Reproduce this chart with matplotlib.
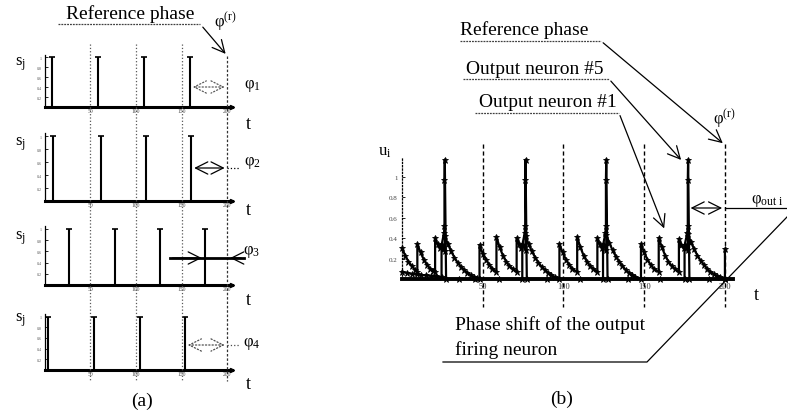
import matplotlib
matplotlib.use("Agg")
import matplotlib.pyplot as plt

plt.rcParams['font.family'] = ['Liberation Serif', 'DejaVu Serif']
plt.rcParams['mathtext.fontset'] = 'custom'
plt.rcParams['mathtext.rm'] = 'Liberation Serif'
plt.rcParams['mathtext.it'] = 'Liberation Serif:italic'

# ---------------------------------------------------------------- data
# (a) input spike times of the four inputs s_j
train1_t = [8, 59, 109, 159]
train2_t = [9.7, 61.8, 111, 160.6]
train3_t = [27.3, 76.7, 126, 175]
train4_t = [3.5, 54.4, 104, 153.6]
spike_height = 1.0
ref_phase = 200
grid_t = [50, 100, 150]
t_ticks = [50, 100, 150, 200]

# (b) membrane potentials u_i, (t, u)
n1_trace = [
    (0, 0.30), (2, 0.23), (4, 0.17), (6, 0.13), (8, 0.09), (9.5, 0.07),
    (9.5, 0.34), (11.5, 0.26), (13.5, 0.19), (15.5, 0.14), (17.5, 0.10), (19.5, 0.08), (20.5, 0.07),
    (20.5, 0.40), (22, 0.34), (23.5, 0.30), (24.5, 0.33), (25.5, 0.29), (26.5, 0.27),
    (26.5, 0.42), (28.5, 0.34), (30.5, 0.27), (32.5, 0.21), (34.5, 0.16), (36.5, 0.12), (38.5, 0.09),
    (40.5, 0.06), (42.5, 0.04), (44.5, 0.02), (46.5, 0.01), (48, 0.0),
    (48, 0.33), (50, 0.25), (52, 0.19), (54, 0.14), (56, 0.10), (58.5, 0.07),
    (58.5, 0.41), (60.5, 0.31), (62.5, 0.23), (64.5, 0.17), (66.5, 0.13), (68.5, 0.10), (71, 0.07),
    (71, 0.40), (72.5, 0.34), (74, 0.30), (75, 0.33), (76.5, 0.28),
    (76.5, 0.42), (78.5, 0.34), (80.5, 0.27), (82.5, 0.21), (84.5, 0.16), (86.5, 0.12), (88.5, 0.09),
    (90.5, 0.06), (92.5, 0.04), (94.5, 0.02), (97.5, 0.0),
    (97.5, 0.34), (99.5, 0.26), (101.5, 0.19), (103.5, 0.14), (105.5, 0.10), (108.5, 0.07),
    (108.5, 0.41), (110.5, 0.31), (112.5, 0.23), (114.5, 0.17), (116.5, 0.13), (118.5, 0.10), (121, 0.07),
    (121, 0.40), (122.5, 0.34), (124, 0.30), (125, 0.33), (126.5, 0.28),
    (126.5, 0.43), (128.5, 0.35), (130.5, 0.28), (132.5, 0.22), (134.5, 0.17), (136.5, 0.13), (138.5, 0.09),
    (140.5, 0.06), (142.5, 0.04), (144.5, 0.02), (148, 0.0),
    (148, 0.34), (150, 0.26), (152, 0.19), (154, 0.14), (156, 0.10), (159, 0.07),
    (159, 0.40), (161, 0.31), (163, 0.23), (165, 0.17), (167, 0.13), (169, 0.10), (171.5, 0.07),
    (171.5, 0.39), (173, 0.33), (174.5, 0.30), (175.5, 0.33), (177, 0.28),
    (177, 0.44), (179, 0.36), (181, 0.29), (183, 0.23), (185, 0.18), (187, 0.14), (189, 0.10),
    (191, 0.07), (193, 0.05), (195, 0.03), (197, 0.02), (200, 0.0),
    (200, 0.29),
]
n5_trace = [
    (0, 0.07), (3, 0.06), (6, 0.05), (9, 0.045), (12, 0.04), (15, 0.035), (18, 0.03), (21, 0.025), (24.5, 0.02),
    (24.5, 0.33), (26, 0.45), (26.3, 0.52), (26.3, 0.97), (26.5, 1.17), (27.3, 0.0),
    (35, 0.0), (45, 0.0), (60, 0.0), (74.5, 0.0),
    (74.5, 0.33), (76, 0.45), (76.3, 0.52), (76.3, 0.97), (76.5, 1.17), (77.3, 0.0),
    (90, 0.0), (110, 0.0), (124.5, 0.0),
    (124.5, 0.33), (126, 0.45), (126.3, 0.52), (126.3, 0.97), (126.5, 1.17), (127.3, 0.0),
    (140, 0.0), (160, 0.0), (175, 0.0),
    (175, 0.33), (176.7, 0.45), (177, 0.52), (177, 0.97), (177.2, 1.17), (178, 0.0),
    (190, 0.0), (200, 0.0),
]
n5_fire_t = 177
u_ticks = [0.2, 0.4, 0.6, 0.8, 1.0]
u_ticklabels = ['0.2', '0.4', '0.6', '0.8', '1']

# ---------------------------------------------------------------- figure
W, H = 787, 414
fig = plt.figure(figsize=(W / 100, H / 100), dpi=100)


def px_axes(left, top, right, bottom):
    return fig.add_axes([left / W, 1 - bottom / H, (right - left) / W, (bottom - top) / H])


def arrow(ls='-', color='k', style='<->'):
    return dict(arrowstyle=style, ls=ls, lw=0.9, color=color, mutation_scale=22)


# ---------------------------------------------------------------- panel (a)
A_LEFT, A_RIGHT = 44.5, 232
rows = [(55.5, 108), (134, 202), (227, 286), (315, 371)]
trains = [train1_t, train2_t, train3_t, train4_t]

for (top, bottom), train in zip(rows, trains):
    ax = px_axes(A_LEFT, top, A_RIGHT, bottom)
    ax.set_xlim(0, 205)
    ax.set_ylim(0, 1.05)
    ax.set_facecolor('none')
    ax.vlines(train, 0, spike_height, color='k', lw=1.5)
    ax.plot(train, [spike_height] * len(train), ls='none', marker='_', ms=4, mew=1.2, color='k')
    for s in ['top', 'right']:
        ax.spines[s].set_visible(False)
    ax.spines['bottom'].set_linewidth(2.2)
    ax.spines['left'].set_linewidth(0.9)
    ax.plot([1], [0], marker='>', ms=3, color='k', transform=ax.transAxes, clip_on=False)
    ax.set_xticks(t_ticks)
    ax.set_xticklabels([str(t) for t in t_ticks], fontsize=4, color='0.3')
    ax.tick_params(axis='x', length=0, pad=1)
    ax.set_yticks(u_ticks)
    ax.set_yticklabels(u_ticklabels, fontsize=3, color='0.35')
    ax.tick_params(axis='y', length=2, width=0.6, direction='in', pad=2)

# overlay for lines crossing the four rows (x in t, y in pixels)
ova = px_axes(A_LEFT, 0, A_RIGHT, H)
ova.set_xlim(0, 205)
ova.set_ylim(H, 0)
ova.axis('off')
ova.vlines(grid_t, 45, 382, colors='0.35', linestyles=':', lw=0.9)
ova.vlines(ref_phase, 57, 382, colors='0.2', linestyles=(0, (2, 1.5)), lw=0.9)

# phase arrows
ova.annotate('', xy=(train1_t[-1], 88), xytext=(ref_phase, 88), arrowprops=arrow(':', '0.35'))
ova.annotate('', xy=(train2_t[-1], 169), xytext=(ref_phase, 169), arrowprops=arrow())
ova.plot([ref_phase, 213], [169, 169], ls=':', lw=0.9, color='k', clip_on=False)
ova.plot([137, 218], [259, 259], lw=2.0, color='k', clip_on=False)
ova.annotate('', xy=(train3_t[-1], 259), xytext=(137, 259), arrowprops=arrow(style='->'))
ova.annotate('', xy=(ref_phase, 259), xytext=(218, 259), arrowprops=arrow(style='->'),
             annotation_clip=False)
ova.annotate('', xy=(train4_t[-1], 346), xytext=(ref_phase, 346), arrowprops=arrow(':', '0.3'))
ova.plot([ref_phase, 214], [346, 346], ls=':', lw=0.9, color='0.3', clip_on=False)

# ---------------------------------------------------------------- panel (b)
pb = px_axes(402, 157.6, 733, 280)
pb.set_xlim(0, 205)
pb.set_ylim(0, 1.2)
pb.set_facecolor('none')
for trace in [n5_trace, n1_trace]:
    t, u = zip(*trace)
    pb.plot(t, u, color='k', lw=1.6, marker='*', ms=4.5, mew=0.6, clip_on=False)
for s in ['top', 'right']:
    pb.spines[s].set_visible(False)
pb.spines['bottom'].set_linewidth(2.8)
pb.spines['left'].set_linewidth(0.9)
pb.spines['left'].set_linestyle(':')
pb.set_xticks(t_ticks)
pb.set_xticklabels([str(t) for t in t_ticks], fontsize=6, color='0.2')
pb.tick_params(axis='x', length=0, pad=2)
pb.set_yticks(u_ticks)
pb.set_yticklabels(u_ticklabels, fontsize=5, color='0.25')
pb.tick_params(axis='y', length=2, width=0.6, direction='in', pad=3)

ovb = px_axes(402, 0, 733, H)
ovb.set_xlim(0, 205)
ovb.set_ylim(H, 0)
ovb.axis('off')
ovb.vlines(t_ticks, 145, 308, colors='k', linestyles=(0, (3, 2)), lw=1.0)
ovb.annotate('', xy=(n5_fire_t, 209), xytext=(ref_phase, 209), arrowprops=arrow())
ovb.plot([ref_phase, 238], [209, 209], lw=0.9, color='k', clip_on=False)

# ---------------------------------------------------------------- labels and leaders
ovf = fig.add_axes([0, 0, 1, 1])
ovf.set_xlim(0, W)
ovf.set_ylim(H, 0)
ovf.axis('off')
ovf.set_zorder(5)
ova.set_zorder(4)
ovb.set_zorder(4)

ovf.text(130, 14, 'Reference phase', ha='center', va='center', fontsize=14)
ovf.plot([58, 200], [25, 25], lw=0.9, color='0.25', ls=(0, (1.5, 0.8)))
ovf.annotate('', xy=(ref_phase, 57), xycoords=ova.transData, xytext=(201, 26),
             textcoords=ovf.transData, arrowprops=arrow(style='->'))
ovf.text(225, 22, 'φ$^{\\mathrm{(r)}}$', ha='center', va='center', fontsize=12)

for y in [64, 144, 238, 320]:
    ovf.text(20, y, 's$_\\mathrm{j}$', ha='center', va='center', fontsize=12)
for y in [125, 211, 301, 385]:
    ovf.text(248, y, 't', ha='center', va='center', fontsize=13)
for y, k in zip([86, 163, 252, 344], [1, 2, 3, 4]):
    ovf.text(252, y, 'φ$_%d$' % k, ha='center', va='center', fontsize=12)
ovf.text(142, 401, '(a)', ha='center', va='center', fontsize=14)

# panel (b) texts
ovf.text(524, 30, 'Reference phase', ha='center', va='center', fontsize=14)
ovf.plot([460, 601], [42, 42], lw=0.9, color='0.25', ls=(0, (1.5, 0.8)))
ovf.annotate('', xy=(ref_phase, 146), xycoords=ovb.transData, xytext=(601, 42),
             textcoords=ovf.transData, arrowprops=arrow(style='->'))
ovf.text(535, 69, 'Output neuron #5', ha='center', va='center', fontsize=14)
ovf.plot([463, 609], [80, 80], lw=0.9, color='0.25', ls=(0, (1.5, 0.8)))
ovf.annotate('', xy=(n5_fire_t - 3, 163), xycoords=ovb.transData, xytext=(609, 80),
             textcoords=ovf.transData, arrowprops=arrow(style='->'))
ovf.text(548, 103, 'Output neuron #1', ha='center', va='center', fontsize=14)
ovf.plot([475, 619], [114, 114], lw=0.9, color='0.25', ls=(0, (1.5, 0.8)))
ovf.annotate('', xy=(163, 232), xycoords=ovb.transData, xytext=(619, 114),
             textcoords=ovf.transData, arrowprops=arrow(style='->'))
ovf.text(724, 119, 'φ$^{\\mathrm{(r)}}$', ha='center', va='center', fontsize=12)
ovf.text(767, 201, 'φ$_\\mathrm{out\\ i}$', ha='center', va='center', fontsize=12)
ovf.text(385, 152, 'u$_\\mathrm{i}$', ha='center', va='center', fontsize=12)
ovf.text(756, 296, 't', ha='center', va='center', fontsize=13)

ovf.text(455, 325, 'Phase shift of the output', ha='left', va='center', fontsize=14)
ovf.text(455, 350, 'firing neuron', ha='left', va='center', fontsize=14)
ovf.plot([443, 647, 787], [363, 363, 218], lw=0.9, color='k', clip_on=False)
ovf.text(562, 399, '(b)', ha='center', va='center', fontsize=14)

fig.savefig('out.png', dpi=100, facecolor='white')
